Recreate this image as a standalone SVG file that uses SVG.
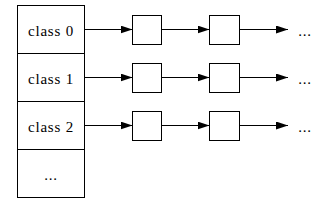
<svg xmlns="http://www.w3.org/2000/svg" width="334" height="204" viewBox="0 0 334 204">
<style>
.box{fill:#fff;stroke:#000;stroke-width:1}
.lbl{font-family:"Liberation Serif","Times New Roman",serif;font-size:15px;fill:#000;text-anchor:middle;letter-spacing:0.8px}
.edge{stroke:#000;stroke-width:1;fill:none;marker-end:url(#ah)}
</style>
<defs>
<marker id="ah" markerUnits="userSpaceOnUse" markerWidth="12" markerHeight="8" refX="12" refY="4" orient="auto">
<path d="M0,0 L12,4 L0,8 z" fill="#000"/>
</marker>
</defs>
<rect width="334" height="204" fill="#fff"/>
<g id="table">
<rect class="box" x="17.5" y="5.5" width="67" height="192"/>
</g>
<g id="class0"><rect class="box" x="17.5" y="5.5" width="67" height="48"/><text class="lbl" x="51" y="36">class 0</text></g>
<g id="class1"><rect class="box" x="17.5" y="53.5" width="67" height="48"/><text class="lbl" x="51" y="84">class 1</text></g>
<g id="class2"><rect class="box" x="17.5" y="101.5" width="67" height="48"/><text class="lbl" x="51" y="132">class 2</text></g>
<g id="classN"><rect class="box" x="17.5" y="149.5" width="67" height="48"/><text class="lbl" x="51" y="180">...</text></g>
<g id="n00"><rect class="box" x="132.5" y="15.5" width="29" height="29"/></g>
<g id="n01"><rect class="box" x="209.5" y="15.5" width="30" height="29"/></g>
<g id="n10"><rect class="box" x="132.5" y="63.5" width="29" height="29"/></g>
<g id="n11"><rect class="box" x="209.5" y="63.5" width="30" height="29"/></g>
<g id="n20"><rect class="box" x="132.5" y="111.5" width="29" height="29"/></g>
<g id="n21"><rect class="box" x="209.5" y="111.5" width="30" height="29"/></g>
<g id="more0"><text class="lbl" x="305" y="36">...</text></g>
<g id="more1"><text class="lbl" x="305" y="84">...</text></g>
<g id="more2"><text class="lbl" x="305" y="132">...</text></g>
<g id="connectors">
<line class="edge" x1="84.5" y1="29.5" x2="132.5" y2="29.5"/>
<line class="edge" x1="161.5" y1="29.5" x2="209.5" y2="29.5"/>
<line class="edge" x1="239.5" y1="29.5" x2="288" y2="29.5"/>
<line class="edge" x1="84.5" y1="77.5" x2="132.5" y2="77.5"/>
<line class="edge" x1="161.5" y1="77.5" x2="209.5" y2="77.5"/>
<line class="edge" x1="239.5" y1="77.5" x2="288" y2="77.5"/>
<line class="edge" x1="84.5" y1="125.5" x2="132.5" y2="125.5"/>
<line class="edge" x1="161.5" y1="125.5" x2="209.5" y2="125.5"/>
<line class="edge" x1="239.5" y1="125.5" x2="288" y2="125.5"/>
</g>
</svg>
